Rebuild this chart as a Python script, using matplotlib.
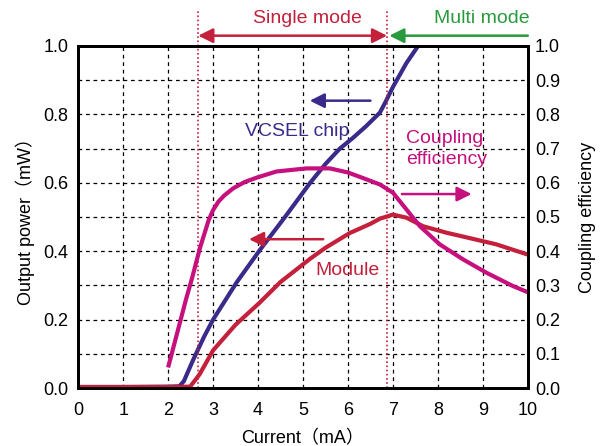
import matplotlib.pyplot as plt
from matplotlib.ticker import MultipleLocator

plt.rcParams['font.family'] = ['Liberation Sans', 'Noto Sans CJK JP', 'DejaVu Sans']

# drive current (mA) and output power (mW)
vcsel_x = [0, 1.0, 2.0, 2.25, 2.35, 2.56, 2.8, 3.0, 3.53, 4.05, 4.6, 5.16, 5.5, 5.82, 6.1, 6.4, 6.71, 6.85, 7.0, 7.3, 7.56]
vcsel_y = [0.003, 0.003, 0.004, 0.005, 0.02, 0.083, 0.15, 0.2, 0.31, 0.405, 0.5, 0.6, 0.655, 0.70, 0.73, 0.765, 0.805, 0.84, 0.88, 0.95, 1.0]

module_x = [0, 1.0, 2.0, 2.49, 2.7, 3.0, 3.5, 4.04, 4.5, 5.16, 5.5, 6.04, 6.5, 6.71, 7.0, 7.3, 7.67, 8.19, 8.78, 9.3, 10.0]
module_y = [0.003, 0.003, 0.003, 0.004, 0.04, 0.11, 0.185, 0.25, 0.31, 0.378, 0.41, 0.453, 0.48, 0.495, 0.507, 0.498, 0.473, 0.454, 0.436, 0.42, 0.39]

# coupling efficiency (right axis)
coup_x = [2.0, 2.2, 2.4, 2.53, 2.71, 2.9, 3.0, 3.12, 3.25, 3.45, 3.7, 3.97, 4.41, 5.08, 5.6, 6.0, 6.33, 6.71, 7.0, 7.3, 7.6, 8.04, 8.56, 9.08, 9.67, 10.0]
coup_y = [0.06, 0.16, 0.26, 0.32, 0.41, 0.49, 0.52, 0.545, 0.563, 0.584, 0.602, 0.615, 0.633, 0.642, 0.642, 0.63, 0.614, 0.595, 0.571, 0.522, 0.473, 0.42, 0.376, 0.337, 0.298, 0.28]

mode_edges = [2.67, 6.87]

c_vcsel = '#3a2a8a'
c_module = '#c41f3b'
c_coup = '#c6107e'
c_green = '#2a9a3e'

fig = plt.figure(figsize=(6.06, 4.46), dpi=100)
ax = fig.add_axes([0.129, 0.130, 0.742, 0.767])
ax2 = ax.twinx()

ax.set_xlim(0, 10)
ax.set_ylim(0, 1.0)
ax2.set_ylim(0, 1.0)

ax.xaxis.set_major_locator(MultipleLocator(1))
ax.yaxis.set_major_locator(MultipleLocator(0.2))
ax.yaxis.set_minor_locator(MultipleLocator(0.1))
ax2.yaxis.set_major_locator(MultipleLocator(0.1))
ax.yaxis.set_major_formatter(plt.FormatStrFormatter('%.1f'))
ax2.yaxis.set_major_formatter(plt.FormatStrFormatter('%.1f'))

ax.grid(True, which='both', color='black', linestyle=(0, (3, 3)), linewidth=0.9)
ax.set_axisbelow(True)

for a in (ax, ax2):
    for s in a.spines.values():
        s.set_linewidth(2)
    a.tick_params(labelsize=13, length=0)
ax.tick_params(axis='x', pad=10)
ax.tick_params(axis='y', pad=7)
ax2.tick_params(axis='y', pad=5)
ax.tick_params(which='minor', length=0)

ax.plot(vcsel_x, vcsel_y, color=c_vcsel, lw=3, solid_capstyle='butt', solid_joinstyle='round')
ax.plot(module_x, module_y, color=c_module, lw=3, solid_capstyle='butt', solid_joinstyle='round')
ax2.plot(coup_x, coup_y, color=c_coup, lw=3, solid_capstyle='butt', solid_joinstyle='round')

# single / multi mode boundaries
for xe in mode_edges:
    ax.plot([xe, xe], [0, 1.105], color=c_module, lw=1.2, linestyle=(0, (1, 1.5)), clip_on=False)

arrow = dict(arrowstyle='-|>', mutation_scale=22, lw=1.8, shrinkA=0, shrinkB=0)
ax.annotate('', xy=(mode_edges[0], 1.03), xytext=(mode_edges[1], 1.03),
            arrowprops=dict(arrow, arrowstyle='<|-|>', color=c_module), annotation_clip=False)
ax.text(5.1, 1.08, 'Single mode', color=c_module, fontsize=14, ha='center', va='center')
ax.annotate('', xy=(mode_edges[1] + 0.05, 1.03), xytext=(10.0, 1.03),
            arrowprops=dict(arrow, color=c_green), annotation_clip=False)
ax.text(8.98, 1.08, 'Multi mode', color=c_green, fontsize=14, ha='center', va='center')

# curve labels
ax.annotate('', xy=(5.15, 0.84), xytext=(6.5, 0.84),
            arrowprops=dict(arrow, color=c_vcsel))
ax.text(4.87, 0.75, 'VCSEL chip', color=c_vcsel, fontsize=14, ha='center', va='center')

ax.annotate('', xy=(3.8, 0.435), xytext=(5.45, 0.435),
            arrowprops=dict(arrow, color=c_module))
ax.text(6.0, 0.345, 'Module', color=c_module, fontsize=14, ha='center', va='center')

ax.annotate('', xy=(8.75, 0.567), xytext=(7.2, 0.567),
            arrowprops=dict(arrow, color=c_coup))
ax.text(7.3, 0.70, 'Coupling\nefficiency', color=c_coup, fontsize=14, ha='left', va='center',
        linespacing=1.3)

ax.set_xlabel('Current（mA）', fontsize=13, labelpad=8)
ax.set_ylabel('Output power（mW）', fontsize=13, labelpad=6)
ax2.set_ylabel('Coupling efficiency', fontsize=13, labelpad=14)

fig.savefig('out.png', dpi=100)
